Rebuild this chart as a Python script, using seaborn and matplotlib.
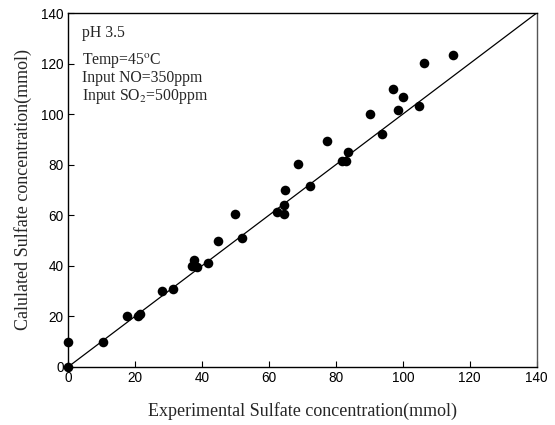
import matplotlib
matplotlib.use("Agg")
import matplotlib.pyplot as plt
import seaborn as sns
import pandas as pd

experimental = [0, 0, 10.5, 17.5, 21.0, 21.5, 28.2, 31.4, 37.6, 37.1, 38.6, 41.8, 44.9,
                50.0, 52.1, 62.5, 64.4, 64.4, 64.7, 72.4, 68.7, 77.4, 81.9, 83.1, 83.5,
                90.1, 93.9, 97.0, 98.6, 100.2, 104.9, 106.3, 114.9]
calculated = [0, 10, 10, 20, 20.2, 21, 30, 30.7, 42.5, 40, 39.7, 41, 50,
              60.5, 51.1, 61.3, 60.4, 63.9, 70, 71.5, 80.1, 89.5, 81.6, 81.6, 85.1,
              100, 92.1, 110, 101.6, 106.6, 103.1, 120.1, 123.2]
line_x = [0, 140]
line_y = [0, 140]
ticks = [0, 20, 40, 60, 80, 100, 120, 140]

sns.set_style("ticks")
plt.rcParams["mathtext.fontset"] = "stix"
plt.rcParams["xtick.direction"] = "in"
plt.rcParams["ytick.direction"] = "in"

fig = plt.figure(figsize=(5.55, 4.25), dpi=100)
ax = fig.add_axes([0.1225, 0.1365, 0.8445, 0.8329])

df = pd.DataFrame({"x": experimental, "y": calculated})
sns.lineplot(x=line_x, y=line_y, ax=ax, color="black", linewidth=0.9)
sns.scatterplot(data=df, x="x", y="y", ax=ax, color="black", s=48,
                edgecolor="black", linewidth=0, zorder=3, clip_on=False)

ax.set_xlim(0, 140)
ax.set_ylim(0, 140)
ax.set_xticks(ticks)
ax.set_yticks(ticks)
for lab in ax.get_xticklabels() + ax.get_yticklabels():
    lab.set_family("Liberation Sans")
    lab.set_fontsize(9.8)
ax.tick_params(length=4, width=0.8, colors="black", pad=3)
for sp in ax.spines.values():
    sp.set_color("black")
    sp.set_linewidth(1.0)
ax.spines["right"].set_color("#555555")

serif = "Liberation Serif"
ax.set_xlabel("Experimental Sulfate concentration(mmol)", family=serif, fontsize=13, labelpad=12)
ax.set_ylabel("Calulated Sulfate concentration(mmol)", family=serif, fontsize=13, labelpad=7)

tx = 0.03
ax.text(tx, 0.943, "pH 3.5", transform=ax.transAxes, family=serif, fontsize=11.3, va="center")
ax.text(tx, 0.866, "Temp=45$^{\\mathrm{o}}$C", transform=ax.transAxes, family=serif, fontsize=11.3, va="center")
ax.text(tx, 0.816, "Input NO=350ppm", transform=ax.transAxes, family=serif, fontsize=11.3, va="center")
ax.text(tx, 0.763, "Input SO$_{2}$=500ppm", transform=ax.transAxes, family=serif, fontsize=11.3, va="center")

fig.savefig("out.png", dpi=100)
